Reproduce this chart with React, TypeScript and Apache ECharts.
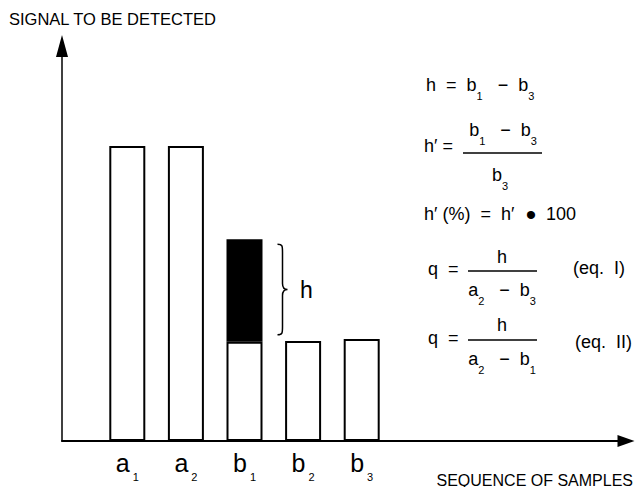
import React, { useEffect, useRef } from "react";
import * as echarts from "echarts";

const categories = ["a1", "a2", "b1", "b2", "b3"];
const catLetters = ["a", "a", "b", "b", "b"];
const catSubs = ["1", "2", "1", "2", "3"];
const baseValues = [74.7, 74.7, 25.1, 25.3, 25.8];
const hValues: any[] = ["-", "-", 26.0, "-", "-"];
const braceIndex = 2;
const yAxisTitle = "SIGNAL TO BE DETECTED";
const xAxisTitle = "SEQUENCE OF SAMPLES";

const FONT = "'Liberation Sans', Arial, 'DejaVu Sans', sans-serif";

const rich = {
  m: { fontSize: 18, fontFamily: FONT, color: "#000", verticalAlign: "top", lineHeight: 18 },
  s: { fontSize: 11, fontFamily: FONT, color: "#000", verticalAlign: "top", lineHeight: 11, padding: [14, 0, 0, 0] },
};

function t(text: string, x: number, y: number, align: string = "left") {
  return {
    type: "text",
    x,
    y,
    style: { text, rich, fill: "#000", align, verticalAlign: "top", fontSize: 18, fontFamily: FONT },
  };
}
function hline(x1: number, x2: number, y: number) {
  return {
    type: "line",
    shape: { x1, y1: y, x2, y2: y },
    style: { stroke: "#000", lineWidth: 1.5 },
  };
}

export default function App() {
  const ref = useRef<HTMLDivElement>(null);
  useEffect(() => {
    if (!ref.current) return;
    const chart = echarts.init(ref.current, null, { renderer: "svg" });
    const hB1 = hValues[braceIndex] as number;
    const option: any = {
      animation: false,
      backgroundColor: "#fff",
      title: [
        {
          text: yAxisTitle,
          left: 9,
          top: 10,
          padding: 0,
          textStyle: { fontSize: 16.5, fontWeight: "normal", color: "#000", fontFamily: FONT },
        },
        {
          text: xAxisTitle,
          right: 2,
          top: 472,
          padding: 0,
          textStyle: { fontSize: 16, fontWeight: "normal", color: "#000", fontFamily: FONT },
        },
      ],
      grid: [
        { left: 62, right: 9, top: 46, bottom: 46 },
        { left: 98, right: 244, top: 46, bottom: 46 },
      ],
      xAxis: [
        {
          type: "value",
          gridIndex: 0,
          min: 0,
          max: 100,
          axisLine: {
            show: true,
            symbol: ["none", "triangle"],
            symbolSize: [12, 17],
            symbolOffset: [0, 0],
            lineStyle: { color: "#000", width: 2 },
          },
          axisTick: { show: false },
          axisLabel: { show: false },
          splitLine: { show: false },
        },
        {
          type: "category",
          gridIndex: 1,
          data: categories,
          axisLine: { show: false },
          axisTick: { show: false },
          splitLine: { show: false },
          axisLabel: {
            interval: 0,
            margin: 9,
            formatter: (_v: string, i: number) => `{m|${catLetters[i]}}{s|${catSubs[i]}}`,
            rich: {
              m: { fontSize: 25, fontFamily: FONT, color: "#000", verticalAlign: "top", lineHeight: 25 },
              s: { fontSize: 11, fontFamily: FONT, color: "#000", verticalAlign: "top", lineHeight: 11, padding: [21, 0, 0, 3] },
            },
          },
        },
      ],
      yAxis: [
        {
          type: "value",
          gridIndex: 0,
          min: 0,
          max: 100,
          axisLine: {
            show: true,
            symbol: ["none", "triangle"],
            symbolSize: [12, 22],
            symbolOffset: [0, 0],
            lineStyle: { color: "#000", width: 1.5 },
          },
          axisTick: { show: false },
          axisLabel: { show: false },
          splitLine: { show: false },
        },
        {
          type: "value",
          gridIndex: 1,
          min: 0,
          max: 100,
          show: false,
          splitLine: { show: false },
        },
      ],
      series: [
        {
          type: "bar",
          name: "base",
          xAxisIndex: 1,
          yAxisIndex: 1,
          stack: "s",
          barWidth: 36,
          data: baseValues,
          itemStyle: { color: "#fff", borderColor: "#000", borderWidth: 2 },
        },
        {
          type: "bar",
          name: "h",
          xAxisIndex: 1,
          yAxisIndex: 1,
          stack: "s",
          barWidth: 36,
          data: hValues,
          itemStyle: { color: "#000", borderColor: "#000", borderWidth: 2 },
        },
        {
          type: "custom",
          name: "brace",
          xAxisIndex: 1,
          yAxisIndex: 1,
          data: [[braceIndex, baseValues[braceIndex] + hB1, baseValues[braceIndex]]],
          renderItem: (_p: any, api: any) => {
            const top = api.coord([api.value(0), api.value(1)]);
            const bot = api.coord([api.value(0), api.value(2)]);
            const x0 = top[0] + 33;
            const y0 = top[1] + 5;
            const y1 = bot[1] - 7;
            const ym = (y0 + y1) / 2;
            const xm = x0 + 5;
            const d =
              `M${x0} ${y0} C${xm} ${y0} ${xm} ${y0 + 2} ${xm} ${y0 + 8} ` +
              `L${xm} ${ym - 6} C${xm} ${ym - 1} ${xm + 2} ${ym} ${xm + 5} ${ym} ` +
              `C${xm + 2} ${ym} ${xm} ${ym + 1} ${xm} ${ym + 6} ` +
              `L${xm} ${y1 - 8} C${xm} ${y1 - 2} ${xm} ${y1} ${x0} ${y1}`;
            return {
              type: "group",
              children: [
                {
                  type: "path",
                  shape: { pathData: d },
                  style: { fill: "none", stroke: "#000", lineWidth: 1.5 },
                },
                {
                  type: "text",
                  x: x0 + 29,
                  y: ym,
                  style: {
                    text: "h",
                    fill: "#000",
                    font: `23px ${FONT}`,
                    align: "center",
                    verticalAlign: "middle",
                  },
                },
              ],
            };
          },
        },
      ],
      graphic: [
        t("{m|h  =  b}{s|1}{m|   −  b}{s|3}", 426, 76),
        t("{m|h′ =}", 424, 137),
        t("{m|b}{s|1}{m|   −  b}{s|3}", 503, 121, "center"),
        hline(463, 542, 153),
        t("{m|b}{s|3}", 500, 166, "center"),
        t("{m|h′ (%)  =  h′}", 424, 205),
        {
          type: "text",
          x: 531,
          y: 214,
          style: { text: "•", fill: "#000", fontSize: 30, fontFamily: FONT, align: "center", verticalAlign: "middle" },
        },
        t("{m|100}", 546, 205),
        t("{m|q  =}", 428, 260),
        t("{m|h}", 502, 248, "center"),
        hline(468, 537, 271),
        t("{m|a}{s|2}{m|   −  b}{s|3}", 502, 281, "center"),
        t("{m|(eq.  I)}", 573, 259),
        t("{m|q  =}", 428, 329),
        t("{m|h}", 502, 316, "center"),
        hline(468, 537, 340),
        t("{m|a}{s|2}{m|   −  b}{s|1}", 502, 350, "center"),
        t("{m|(eq.  II)}", 575, 333),
      ],
    };
    chart.setOption(option);
    return () => chart.dispose();
  }, []);
  return <div ref={ref} style={{ width: 635, height: 487, position: "absolute", left: 0, top: 0 }} />;
}
